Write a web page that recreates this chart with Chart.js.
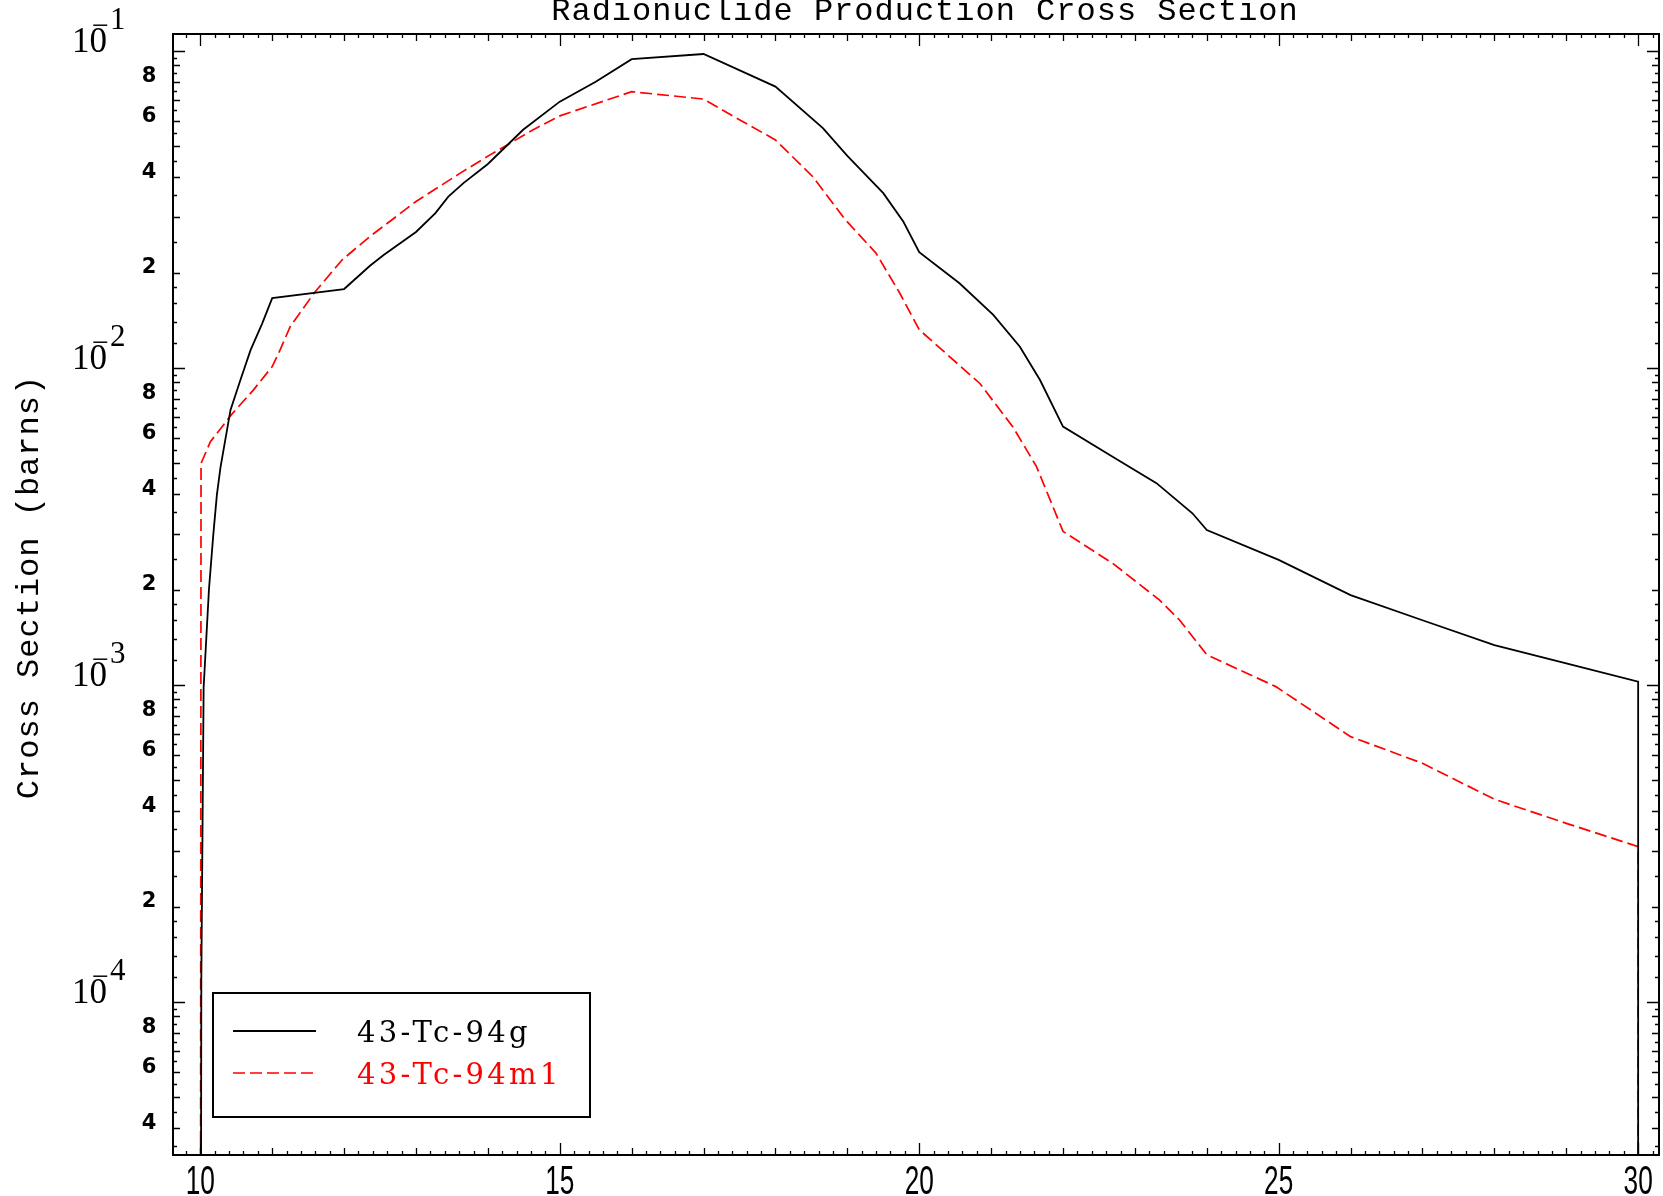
<!DOCTYPE html>
<html><head><meta charset="utf-8">
<script src="https://cdn.jsdelivr.net/npm/chart.js@4/dist/chart.umd.min.js"></script>
<style>html,body{margin:0;padding:0;background:#fff;overflow:hidden}#wrap{width:1663px;height:1196px;position:relative}</style>
</head><body><div id="wrap"><canvas id="c"></canvas></div>
<script>
// ---------- data ----------
const titleText = 'Radionuclide Production Cross Section';
const yAxisTitle = 'Cross Section (barns)';
const seriesNames = ['43-Tc-94g', '43-Tc-94m1'];

const energyG = [10.0, 10.014, 10.046, 10.12, 10.18, 10.23, 10.28, 10.42, 10.56, 10.70, 10.86, 11.0, 12.0, 12.36, 12.55, 13.0, 13.27, 13.45, 13.66, 14.0, 14.49, 15.0, 15.5, 16.0, 17.0, 18.0, 18.66, 19.0, 19.5, 19.78, 20.0, 20.56, 21.03, 21.4, 21.68, 22.0, 22.69, 23.3, 23.8, 24.0, 25.0, 26.0, 27.0, 28.0, 29.0, 30.0, 30.0];
const xsG = [1e-6, 1.17e-4, 9.8e-4, 2.0e-3, 2.97e-3, 3.97e-3, 4.85e-3, 7.37e-3, 9.2e-3, 0.0114, 0.0138, 0.0166, 0.01774, 0.0210, 0.0227, 0.02685, 0.0308, 0.0347, 0.0383, 0.0440, 0.0564, 0.0692, 0.080, 0.0942, 0.0978, 0.0772, 0.0571, 0.0467, 0.0356, 0.0289, 0.0232, 0.0185, 0.0147, 0.01167, 0.00916, 0.00653, 0.00525, 0.00433, 0.00348, 0.00308, 0.00248, 0.00192, 0.00160, 0.001336, 0.00117, 0.001024, 1e-6];

const energyM = [10.0, 10.01, 10.14, 10.43, 10.74, 11.0, 11.11, 11.25, 11.58, 11.97, 12.36, 13.0, 13.61, 14.03, 14.63, 15.0, 16.0, 17.0, 17.46, 18.0, 18.52, 18.94, 19.0, 19.4, 19.73, 20.0, 20.84, 21.3, 21.63, 21.86, 22.0, 22.69, 23.34, 23.62, 24.0, 24.96, 26.0, 27.0, 28.0, 29.0, 30.0, 30.0];
const xsM = [1e-6, 5.0e-3, 5.85e-3, 7.11e-3, 8.53e-3, 0.0101, 0.0114, 0.0135, 0.0172, 0.0219, 0.0260, 0.0335, 0.0411, 0.0470, 0.0564, 0.0624, 0.0744, 0.0705, 0.0614, 0.0524, 0.0401, 0.0300, 0.0289, 0.0230, 0.0172, 0.0132, 0.00895, 0.00653, 0.00489, 0.00365, 0.00305, 0.00242, 0.001855, 0.001603, 0.001245, 0.000988, 0.000687, 0.000566, 0.000436, 0.000366, 0.000309, 1e-6];

const xTickValues = [10, 15, 20, 25, 30];
const xTickLabels = ['10', '15', '20', '25', '30'];
const yDecadeValues = [1e-4, 1e-3, 1e-2, 1e-1];
const yDecadeExponents = ['4', '3', '2', '1'];
const yMinorLabelMultipliers = [2, 4, 6, 8];
const yMinorLabels = ['2', '4', '6', '8'];

// ---------- chart ----------
const toPts = (xs, ys) => xs.map((x, i) => ({x: x, y: ys[i]}));

const axesPlugin = {
  id: 'idlAxes',
  afterDatasetsDraw(chart) {
    const ctx = chart.ctx, a = chart.chartArea;
    const xs = chart.scales.x, ys = chart.scales.y;
    ctx.save();
    ctx.strokeStyle = '#000'; ctx.fillStyle = '#000';
    // frame
    ctx.lineWidth = 2;
    ctx.strokeRect(a.left, a.top, a.right - a.left, a.bottom - a.top);
    ctx.lineWidth = 1.3;
    // x ticks (bottom & top, pointing inward)
    for (let i = Math.ceil(xs.min * 5); i <= Math.floor(xs.max * 5); i++) {
      const v = i / 5, px = Math.round(xs.getPixelForValue(v)) + 0.5;
      const len = (i % 25 === 0) ? 12 : (i % 5 === 0 ? 7 : 4);
      ctx.beginPath();
      ctx.moveTo(px, a.bottom); ctx.lineTo(px, a.bottom - len);
      ctx.moveTo(px, a.top); ctx.lineTo(px, a.top + len);
      ctx.stroke();
    }
    // y ticks (left & right, pointing inward)
    const mults = [1, 1.2, 1.4, 1.6, 1.8, 2, 2.5, 3, 3.5, 4, 4.5, 5, 5.5, 6, 6.5, 7, 7.5, 8, 8.5, 9, 9.5];
    for (let d = -6; d <= 0; d++) {
      for (const m of mults) {
        const v = m * Math.pow(10, d);
        if (v < ys.min || v > ys.max) continue;
        const py = Math.round(ys.getPixelForValue(v)) + 0.5;
        const len = (m === 1) ? 12 : (Number.isInteger(m) ? 7 : 4);
        ctx.beginPath();
        ctx.moveTo(a.left, py); ctx.lineTo(a.left + len, py);
        ctx.moveTo(a.right, py); ctx.lineTo(a.right - len, py);
        ctx.stroke();
      }
    }
    // x tick labels (narrow font)
    ctx.textAlign = 'center'; ctx.textBaseline = 'alphabetic';
    ctx.font = '41px "Liberation Sans"';
    xTickValues.forEach((v, i) => {
      const px = xs.getPixelForValue(v);
      ctx.save(); ctx.translate(px, a.bottom + 39); ctx.scale(0.64, 1);
      ctx.fillText(xTickLabels[i], 0, 0); ctx.restore();
    });
    // y decade labels: 10 with superscript -n
    yDecadeValues.forEach((v, i) => {
      const py = ys.getPixelForValue(v);
      if (py < a.top - 30 || py > a.bottom) return;
      ctx.textAlign = 'left'; ctx.textBaseline = 'alphabetic';
      ctx.font = '35px "Liberation Serif"';
      ctx.fillText('10', 72, py + 1);
      ctx.font = '30px "Liberation Serif"';
      ctx.fillText('\u2212', 92, py - 16);
      ctx.font = '31px "Liberation Serif"';
      ctx.fillText(yDecadeExponents[i], 110, py - 22);
    });
    // y minor labels
    ctx.font = 'bold 21px "DejaVu Sans"';
    ctx.textAlign = 'center'; ctx.textBaseline = 'middle';
    yDecadeValues.concat([1e-5]).forEach((dv) => {
      yMinorLabelMultipliers.forEach((m, j) => {
        const v = m * dv;
        if (v < ys.min || v > ys.max) return;
        const py = ys.getPixelForValue(v);
        ctx.fillText(yMinorLabels[j], 149, py - 5);
      });
    });
    // title
    ctx.font = '32px "Liberation Mono"';
    ctx.letterSpacing = '1px';
    ctx.textAlign = 'center'; ctx.textBaseline = 'alphabetic';
    ctx.fillText(chart.options.plugins.title.text, 925, 20);
    // y axis title
    ctx.save();
    ctx.translate(38, 587);
    ctx.rotate(-Math.PI / 2);
    ctx.fillText(yAxisTitle, 0, 0);
    ctx.restore();
    // legend
    ctx.letterSpacing = '0px';
    ctx.lineWidth = 2; ctx.setLineDash([]);
    ctx.strokeRect(213, 993, 377, 124);
    const rows = [1031, 1073];
    chart.data.datasets.forEach((ds, i) => {
      ctx.strokeStyle = ds.borderColor; ctx.lineWidth = ds.borderWidth;
      ctx.setLineDash(ds.borderDash || []);
      ctx.beginPath(); ctx.moveTo(233, rows[i]); ctx.lineTo(316, rows[i]); ctx.stroke();
      ctx.setLineDash([]);
      ctx.fillStyle = ds.borderColor;
      ctx.font = '29px "DejaVu Serif"';
      ctx.letterSpacing = '3.3px';
      ctx.textAlign = 'left'; ctx.textBaseline = 'alphabetic';
      ctx.fillText(ds.label, 357, rows[i] + 11);
      ctx.letterSpacing = '0px';
    });
    ctx.restore();
  }
};

new Chart(document.getElementById('c'), {
  type: 'line',
  data: {
    datasets: [
      {label: seriesNames[0], data: toPts(energyG, xsG), borderColor: '#000000', borderWidth: 1.8, pointRadius: 0, tension: 0, fill: false},
      {label: seriesNames[1], data: toPts(energyM, xsM), borderColor: '#ff0000', borderWidth: 1.7, borderDash: [12, 5], pointRadius: 0, tension: 0, fill: false}
    ]
  },
  options: {
    responsive: true, maintainAspectRatio: false, devicePixelRatio: 1, animation: false,
    layout: {padding: {left: 173, top: 34, right: 4, bottom: 41}},
    scales: {
      x: {type: 'linear', min: 9.62, max: 30.29, display: false},
      y: {type: 'logarithmic', min: 3.29e-5, max: 0.1131, display: false}
    },
    plugins: {
      legend: {display: false},
      title: {display: false, text: titleText},
      tooltip: {enabled: false}
    }
  },
  plugins: [axesPlugin]
});
</script></body></html>
